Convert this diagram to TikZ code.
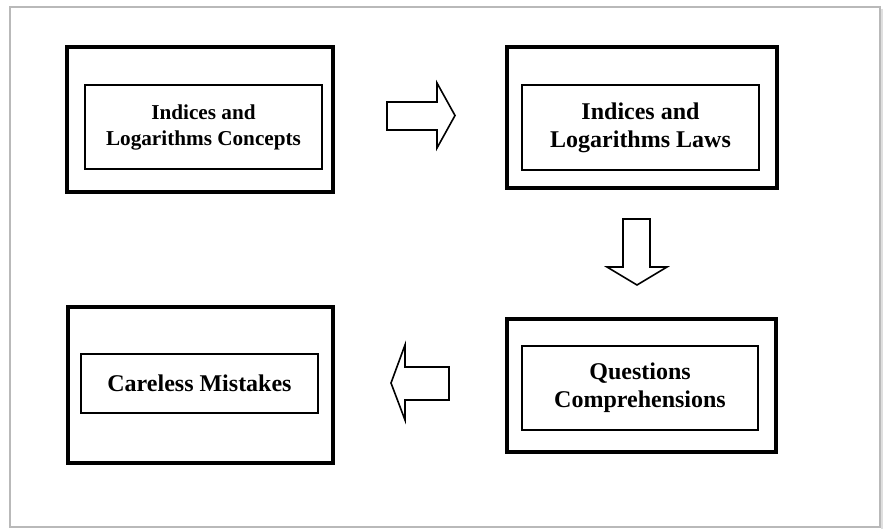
\documentclass[tikz,border=0pt]{standalone}
\usepackage{fontspec}
\setmainfont{Liberation Serif}
\begin{document}
\begin{tikzpicture}[x=1pt,y=-1pt,
	outerbox/.style={rectangle,draw,line width=3.6pt,inner sep=0pt},
	innerbox/.style={rectangle,draw,line width=1.6pt,inner sep=0pt,align=center,
		font=\fontsize{24}{28}\selectfont\bfseries},
	blockarrow/.style={draw,line width=1.6pt,line join=miter,fill=white}]
\useasboundingbox (0,0) rectangle (885,529);
\draw[gray!55,line width=1.4pt] (10,7) rectangle (880,527);
\draw[gray!25,line width=1.5pt] (882,9) -- (882,529);
% four stages
\node[outerbox,minimum width=266,minimum height=145](C1) at (200,119.5){};
\node[innerbox,minimum width=237,minimum height=84,font=\fontsize{21.2}{26}\selectfont\bfseries](C2) at (203.5,127){Indices and\\Logarithms Concepts};
\node[outerbox,minimum width=270,minimum height=141](L1) at (642,117.5){};
\node[innerbox,minimum width=237,minimum height=85](L2) at (640.5,127.5){Indices and\\Logarithms Laws};
\node[outerbox,minimum width=269,minimum height=133](Q1) at (641.5,385.5){};
\node[innerbox,minimum width=236,minimum height=84](Q2) at (640,388){Questions\\Comprehensions};
\node[outerbox,minimum width=265,minimum height=156](M1) at (200.5,385){};
\node[innerbox,minimum width=237,minimum height=59](M2) at (199.5,383.5){Careless Mistakes};
% arrows between them
\draw[blockarrow] (387,102) -- (437,102) -- (437,83) -- (455,115.5) -- (437,148) -- (437,130) -- (387,130) -- cycle;
\draw[blockarrow] (623,219) -- (650,219) -- (650,267) -- (667,267) -- (637,285) -- (607,267) -- (623,267) -- cycle;
\draw[blockarrow] (449,367) -- (449,400) -- (405,400) -- (405,420) -- (391,383) -- (405,345) -- (405,367) -- cycle;
\end{tikzpicture}
\end{document}
